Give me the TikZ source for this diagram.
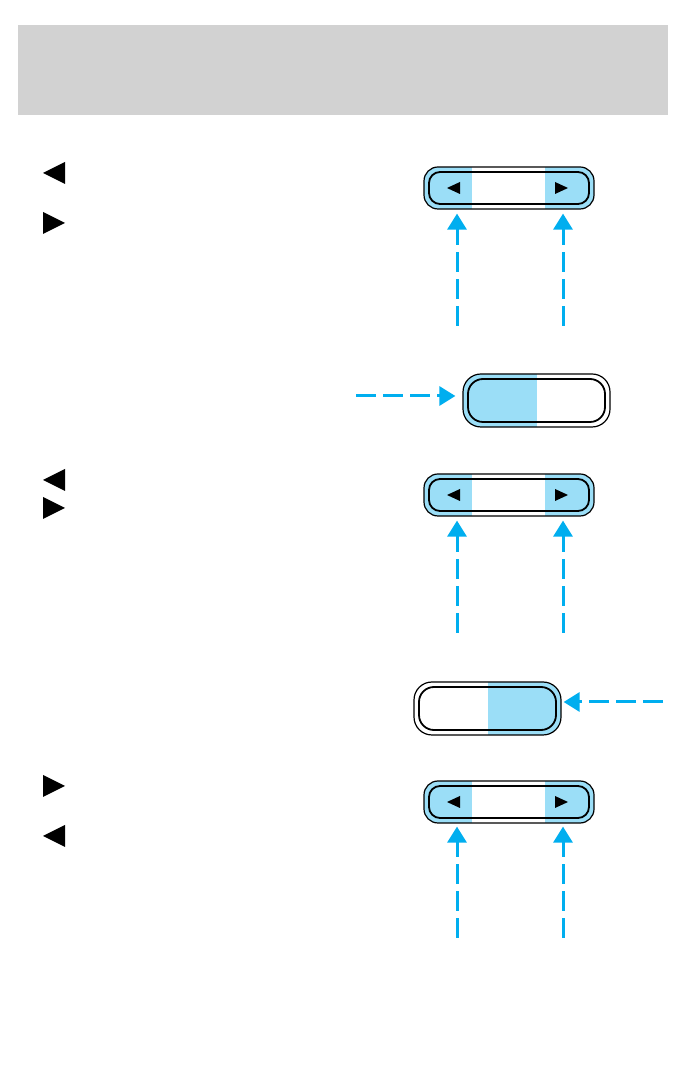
\documentclass[tikz,border=0pt]{standalone}
\usetikzlibrary{arrows.meta,positioning}

\definecolor{headgray}{RGB}{210,210,210}
\definecolor{keyblue}{RGB}{155,222,247}
\definecolor{pointblue}{RGB}{0,174,239}

\tikzset{
    keybase/.style={draw=black, line width=1.2pt, fill=white, inner sep=0pt},
    smallkey/.style={keybase, minimum width=170pt, minimum height=42pt, rounded corners=14pt,
        path picture={
            \fill[keyblue, draw=none, sharp corners] (path picture bounding box.south west) rectangle ++(48,42);
            \fill[keyblue, draw=none, sharp corners] (path picture bounding box.north east) rectangle ++(-49,-42);
            \draw[black, fill=none, line width=1.8pt, rounded corners=11pt]
                ([shift={(5,5)}]path picture bounding box.south west) rectangle ([shift={(-5,-5)}]path picture bounding box.north east);
        }},
    widekey/.style={keybase, minimum width=147pt, minimum height=53pt, rounded corners=18pt,
        path picture={
            \fill[keyblue, draw=none, sharp corners] (path picture bounding box.#1) rectangle (path picture bounding box.south);
            \draw[black, fill=none, line width=1.8pt, rounded corners=15pt]
                ([shift={(5,5)}]path picture bounding box.south west) rectangle ([shift={(-5,-5)}]path picture bounding box.north east);
        }},
    pointer/.style={draw=pointblue, line width=3pt, dash pattern=on 20pt off 7pt,
        -{Triangle[length=16pt, width=19pt]}},
    pics/bigleft/.style={code={\fill (-11,0) -- (11,11) -- (11,-11) -- cycle;}},
    pics/bigright/.style={code={\fill (11,0) -- (-11,11) -- (-11,-11) -- cycle;}},
    pics/smallleft/.style={code={\fill (-7,0) -- (6,6) -- (6,-6) -- cycle;}},
    pics/smallright/.style={code={\fill (7,0) -- (-6,6) -- (-6,-6) -- cycle;}},
}

\begin{document}
\begin{tikzpicture}[x=1pt, y=1pt]
    \useasboundingbox (0,0) rectangle (691,1072);
    \fill[headgray] (18,957) rectangle (668,1047);

    % markers in the text column
    \pic at (54,899) {bigleft};
    \pic at (54,849) {bigright};
    \pic at (54,592) {bigleft};
    \pic at (54,564) {bigright};
    \pic at (54,286) {bigright};
    \pic at (54,236) {bigleft};

    % keys
    \node[smallkey] (key1) at (509,884) {};
    \node[widekey=north west] (key2) at (536.5,671.5) {};
    \node[smallkey] (key3) at (509,577) {};
    \node[widekey=north east] (key4) at (487.5,363.5) {};
    \node[smallkey] (key5) at (509,270) {};

    \foreach \k in {key1,key3,key5} {
        \pic at ([xshift=-55pt]\k.center) {smallleft};
        \pic at ([xshift=52pt]\k.center) {smallright};
    }

    % pointers
    \coordinate (tail1a) at (457,746);
    \coordinate (tail1b) at (563,746);
    \coordinate (tail2) at (356,676);
    \coordinate (tail3a) at (457,439);
    \coordinate (tail3b) at (563,439);
    \coordinate (tail4) at (663,370);
    \coordinate (tail5a) at (457,134);
    \coordinate (tail5b) at (563,134);

    \draw[pointer, shorten >=4pt] (tail1a) -- (tail1a |- key1.south);
    \draw[pointer, shorten >=4pt] (tail1b) -- (tail1b |- key1.south);
    \draw[pointer, shorten >=7pt] (tail2) -- (tail2 -| key2.west);
    \draw[pointer, shorten >=4pt] (tail3a) -- (tail3a |- key3.south);
    \draw[pointer, shorten >=4pt] (tail3b) -- (tail3b |- key3.south);
    \draw[pointer, shorten >=2pt] (tail4) -- (tail4 -| key4.east);
    \draw[pointer, shorten >=3pt] (tail5a) -- (tail5a |- key5.south);
    \draw[pointer, shorten >=3pt] (tail5b) -- (tail5b |- key5.south);
\end{tikzpicture}
\end{document}
